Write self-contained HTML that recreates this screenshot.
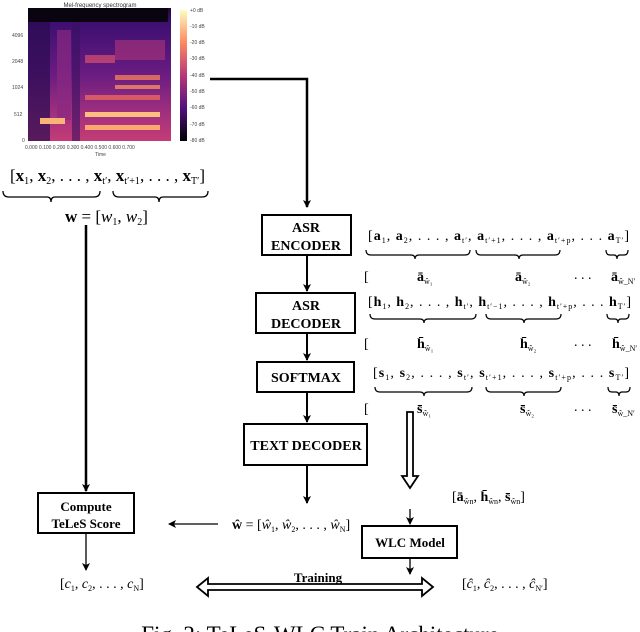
<!DOCTYPE html>
<html><head><meta charset="utf-8"><style>
html,body{margin:0;padding:0;background:#fff;}
svg{display:block;font-family:"Liberation Serif",serif;}
.b{font-weight:bold;}
</style></head><body>
<svg width="640" height="632" viewBox="0 0 640 632" xmlns="http://www.w3.org/2000/svg">
<defs>
<linearGradient id="cb" x1="0" y1="0" x2="0" y2="1">
<stop offset="0" stop-color="#fcfdbf"/><stop offset="0.25" stop-color="#fc8961"/><stop offset="0.5" stop-color="#b73779"/><stop offset="0.75" stop-color="#51127c"/><stop offset="1" stop-color="#000004"/>
</linearGradient>
<linearGradient id="sp" x1="0" y1="0" x2="0" y2="1">
<stop offset="0" stop-color="#1a0a35"/><stop offset="0.1" stop-color="#3b0f70"/><stop offset="0.5" stop-color="#6a1c81"/><stop offset="0.8" stop-color="#a3307e"/><stop offset="1" stop-color="#c43c75"/>
</linearGradient>
<marker id="ar" markerWidth="8" markerHeight="8" refX="7" refY="4" orient="auto" markerUnits="userSpaceOnUse"><path d="M0,0 L8,4 L0,8 L2,4 z" fill="#000"/></marker>
</defs>
<text x="100" y="7" font-family="Liberation Sans" font-size="6" text-anchor="middle" fill="#333">Mel-frequency spectrogram</text>
<rect x="28" y="8" width="143" height="133" fill="url(#sp)"/>
<rect x="28" y="8" width="140" height="14" fill="#0a0410"/>
<rect x="28" y="22" width="22" height="119" fill="#2a0c50" opacity="0.7"/>
<rect x="57" y="30" width="14" height="90" fill="#8a2a82" opacity="0.7"/>
<rect x="115" y="40" width="50" height="20" fill="#b0357a" opacity="0.6"/>
<rect x="85" y="55" width="30" height="8" fill="#d8506e" opacity="0.7"/>
<rect x="115" y="75" width="45" height="5" fill="#f07a5e" opacity="0.8"/>
<rect x="115" y="85" width="45" height="4" fill="#f28f62" opacity="0.8"/>
<rect x="85" y="95" width="75" height="5" fill="#e8665f" opacity="0.8"/>
<rect x="40" y="118" width="25" height="6" fill="#f9b578"/>
<rect x="85" y="112" width="75" height="5" fill="#fbc07f"/>
<rect x="85" y="125" width="75" height="5" fill="#fba870"/>
<rect x="72" y="22" width="8" height="119" fill="#3a1060" opacity="0.6"/>
<rect x="180" y="10" width="7" height="131" fill="url(#cb)"/>
<g font-family="Liberation Sans" font-size="5" fill="#444">
<text x="12" y="37">4096</text><text x="12" y="63">2048</text><text x="12" y="89">1024</text><text x="14" y="116">512</text><text x="22" y="142">0</text>
<text x="190" y="12">+0 dB</text><text x="190" y="28">-10 dB</text><text x="190" y="44">-20 dB</text><text x="190" y="60">-30 dB</text><text x="190" y="77">-40 dB</text><text x="190" y="93">-50 dB</text><text x="190" y="109">-60 dB</text><text x="190" y="126">-70 dB</text><text x="190" y="142">-80 dB</text>
<text x="25" y="149">0.000 0.100 0.200 0.300 0.400 0.500 0.600 0.700</text>
<text x="95" y="156">Time</text>
</g>
<text x="10" y="181" font-size="17" textLength="195" lengthAdjust="spacing">[<tspan class="b">x</tspan><tspan font-size="10" dy="3">1</tspan><tspan dy="-3">, </tspan><tspan class="b">x</tspan><tspan font-size="10" dy="3">2</tspan><tspan dy="-3">, . . . , </tspan><tspan class="b">x</tspan><tspan font-size="10" dy="3">t′</tspan><tspan dy="-3">, </tspan><tspan class="b">x</tspan><tspan font-size="10" dy="3">t′+1</tspan><tspan dy="-3">, . . . , </tspan><tspan class="b">x</tspan><tspan font-size="10" dy="3">T′</tspan><tspan dy="-3">]</tspan></text>
<g fill="none" stroke="#000" stroke-width="1.3">
<path d="M3,191 q0,6 6,6 H47 q4,0 4,5 q0,-5 4,-5 H94 q6,0 6,-6"/>
<path d="M113,191 q0,6 6,6 H155 q4,0 4,5 q0,-5 4,-5 H202 q6,0 6,-6"/>
</g>
<text x="65" y="222" font-size="17"><tspan class="b">w</tspan> = [<tspan font-style="italic">w</tspan><tspan font-size="10" dy="3">1</tspan><tspan dy="-3">, </tspan><tspan font-style="italic">w</tspan><tspan font-size="10" dy="3">2</tspan><tspan dy="-3">]</tspan></text>
<path d="M210,79 H307 V207" fill="none" stroke="#000" stroke-width="2.5" marker-end="url(#ar)"/>
<g fill="#fff" stroke="#000" stroke-width="2">
<rect x="262" y="215" width="89" height="40"/>
<rect x="256" y="293" width="99" height="40"/>
<rect x="257" y="362" width="97" height="30"/>
<rect x="244" y="424" width="123" height="41"/>
<rect x="38" y="493" width="96" height="40"/>
<rect x="362" y="526" width="95" height="32"/>
</g>
<g class="b" font-size="14" text-anchor="middle">
<text x="306" y="232">ASR</text><text x="306" y="250">ENCODER</text>
<text x="306" y="310">ASR</text><text x="306" y="328">DECODER</text>
<text x="306" y="382">SOFTMAX</text>
<text x="306" y="450">TEXT DECODER</text>
<text x="86" y="511" font-size="13">Compute</text><text x="86" y="528" font-size="13">TeLeS Score</text>
<text x="410" y="547" font-size="13">WLC Model</text>
</g>
<g stroke="#000" stroke-width="2" fill="none" marker-end="url(#ar)">
<path d="M307,255 V291"/><path d="M307,333 V360"/><path d="M307,392 V422"/><path d="M307,465 V503"/>
<path d="M86,225 V491" stroke-width="2.5"/>
</g>
<g stroke="#000" stroke-width="1.3" fill="none" marker-end="url(#ar)">
<path d="M218,524 H169"/><path d="M86,533 V570"/><path d="M410,509 V524"/><path d="M410,558 V574"/>
</g>
<g font-size="14">
<text x="368" y="240" textLength="261" lengthAdjust="spacing">[<tspan class="b">a</tspan><tspan font-size="8" dy="3">1</tspan><tspan dy="-3">, </tspan><tspan class="b">a</tspan><tspan font-size="8" dy="3">2</tspan><tspan dy="-3">, . . . , </tspan><tspan class="b">a</tspan><tspan font-size="8" dy="3">t′</tspan><tspan dy="-3">, </tspan><tspan class="b">a</tspan><tspan font-size="8" dy="3">t′+1</tspan><tspan dy="-3">,  . . . , </tspan><tspan class="b">a</tspan><tspan font-size="8" dy="3">t′+p</tspan><tspan dy="-3">, . . . </tspan><tspan class="b">a</tspan><tspan font-size="8" dy="3">T′</tspan><tspan dy="-3">]</tspan></text>
<text x="368" y="306" textLength="263" lengthAdjust="spacing">[<tspan class="b">h</tspan><tspan font-size="8" dy="3">1</tspan><tspan dy="-3">, </tspan><tspan class="b">h</tspan><tspan font-size="8" dy="3">2</tspan><tspan dy="-3">, . . . , </tspan><tspan class="b">h</tspan><tspan font-size="8" dy="3">t′</tspan><tspan dy="-3">, </tspan><tspan class="b">h</tspan><tspan font-size="8" dy="3">t′−1</tspan><tspan dy="-3">,  . . . , </tspan><tspan class="b">h</tspan><tspan font-size="8" dy="3">t′+p</tspan><tspan dy="-3">, . . . </tspan><tspan class="b">h</tspan><tspan font-size="8" dy="3">T′</tspan><tspan dy="-3">]</tspan></text>
<text x="373" y="377" textLength="256" lengthAdjust="spacing">[<tspan class="b">s</tspan><tspan font-size="8" dy="3">1</tspan><tspan dy="-3">, </tspan><tspan class="b">s</tspan><tspan font-size="8" dy="3">2</tspan><tspan dy="-3">, . . . , </tspan><tspan class="b">s</tspan><tspan font-size="8" dy="3">t′</tspan><tspan dy="-3">, </tspan><tspan class="b">s</tspan><tspan font-size="8" dy="3">t′+1</tspan><tspan dy="-3">,  . . . , </tspan><tspan class="b">s</tspan><tspan font-size="8" dy="3">t′+p</tspan><tspan dy="-3">, . . . </tspan><tspan class="b">s</tspan><tspan font-size="8" dy="3">T′</tspan><tspan dy="-3">]</tspan></text>
</g>
<g fill="none" stroke="#000" stroke-width="1.2">
<path d="M366,250 q0,5 5,5 H411 q4,0 4,4 q0,-4 4,-4 H465 q5,0 5,-5"/>
<path d="M476,250 q0,5 5,5 H515 q4,0 4,4 q0,-4 4,-4 H555 q5,0 5,-5"/>
<path d="M606,250 q0,5 4,5 H614 q3,0 3,4 q0,-4 3,-4 H624 q4,0 4,-5"/>
<path d="M370,314 q0,5 5,5 H420 q4,0 4,4 q0,-4 4,-4 H471 q5,0 5,-5"/>
<path d="M486,314 q0,5 5,5 H520 q4,0 4,4 q0,-4 4,-4 H556 q5,0 5,-5"/>
<path d="M607,314 q0,5 4,5 H615 q3,0 3,4 q0,-4 3,-4 H625 q4,0 4,-5"/>
<path d="M375,387 q0,5 5,5 H420 q4,0 4,4 q0,-4 4,-4 H467 q5,0 5,-5"/>
<path d="M486,387 q0,5 5,5 H520 q4,0 4,4 q0,-4 4,-4 H556 q5,0 5,-5"/>
<path d="M608,387 q0,5 4,5 H616 q3,0 3,4 q0,-4 3,-4 H626 q4,0 4,-5"/>
</g>
<g font-size="14">
<text x="364" y="281">[</text><text x="417" y="281" class="b">ā<tspan font-size="8" font-weight="normal" dy="3">ŵ₁</tspan></text><text x="515" y="281" class="b">ā<tspan font-size="8" font-weight="normal" dy="3">ŵ₂</tspan></text><text x="574" y="279">. . .</text><text x="611" y="281" class="b">ā<tspan font-size="8" font-weight="normal" dy="3">ŵ_N′</tspan></text>
<text x="364" y="348">[</text><text x="417" y="348" class="b">h̄<tspan font-size="8" font-weight="normal" dy="3">ŵ₁</tspan></text><text x="520" y="348" class="b">h̄<tspan font-size="8" font-weight="normal" dy="3">ŵ₂</tspan></text><text x="574" y="346">. . .</text><text x="612" y="348" class="b">h̄<tspan font-size="8" font-weight="normal" dy="3">ŵ_N′</tspan></text>
<text x="364" y="413">[</text><text x="417" y="413" class="b">s̄<tspan font-size="8" font-weight="normal" dy="3">ŵ₁</tspan></text><text x="520" y="413" class="b">s̄<tspan font-size="8" font-weight="normal" dy="3">ŵ₂</tspan></text><text x="574" y="411">. . .</text><text x="612" y="413" class="b">s̄<tspan font-size="8" font-weight="normal" dy="3">ŵ_N′</tspan></text>
</g>
<path d="M407,412 H413 V476 H418 L410,488 L402,476 H407 Z" fill="#fff" stroke="#000" stroke-width="1.8"/>
<text x="452" y="501" font-size="14">[<tspan class="b">ā</tspan><tspan font-size="8" dy="3">ŵn</tspan><tspan dy="-3">, </tspan><tspan class="b">h̄</tspan><tspan font-size="8" dy="3">ŵn</tspan><tspan dy="-3">, </tspan><tspan class="b">s̄</tspan><tspan font-size="8" dy="3">ŵn</tspan><tspan dy="-3">]</tspan></text>
<text x="232" y="529" font-size="14"><tspan class="b">ŵ</tspan> = [<tspan font-style="italic">ŵ</tspan><tspan font-size="8" dy="3">1</tspan><tspan dy="-3">, </tspan><tspan font-style="italic">ŵ</tspan><tspan font-size="8" dy="3">2</tspan><tspan dy="-3">, . . . , </tspan><tspan font-style="italic">ŵ</tspan><tspan font-size="8" dy="3">N</tspan><tspan dy="-3">]</tspan></text>
<text x="60" y="588" font-size="14">[<tspan font-style="italic">c</tspan><tspan font-size="8" dy="3">1</tspan><tspan dy="-3">, </tspan><tspan font-style="italic">c</tspan><tspan font-size="8" dy="3">2</tspan><tspan dy="-3">, . . . , </tspan><tspan font-style="italic">c</tspan><tspan font-size="8" dy="3">N</tspan><tspan dy="-3">]</tspan></text>
<text x="462" y="588" font-size="14">[<tspan font-style="italic">ĉ</tspan><tspan font-size="8" dy="3">1</tspan><tspan dy="-3">, </tspan><tspan font-style="italic">ĉ</tspan><tspan font-size="8" dy="3">2</tspan><tspan dy="-3">, . . . , </tspan><tspan font-style="italic">ĉ</tspan><tspan font-size="8" dy="3">N′</tspan><tspan dy="-3">]</tspan></text>
<path d="M197,587 L208,578 V584 H422 V578 L433,587 L422,596 V590 H208 V596 Z" fill="#fff" stroke="#000" stroke-width="1.8"/>
<text x="318" y="582" font-size="13" class="b" text-anchor="middle">Training</text>
<text x="320" y="642" font-size="23" text-anchor="middle">Fig. 2: TeLeS-WLC Train Architecture</text>
</svg>
</body></html>
